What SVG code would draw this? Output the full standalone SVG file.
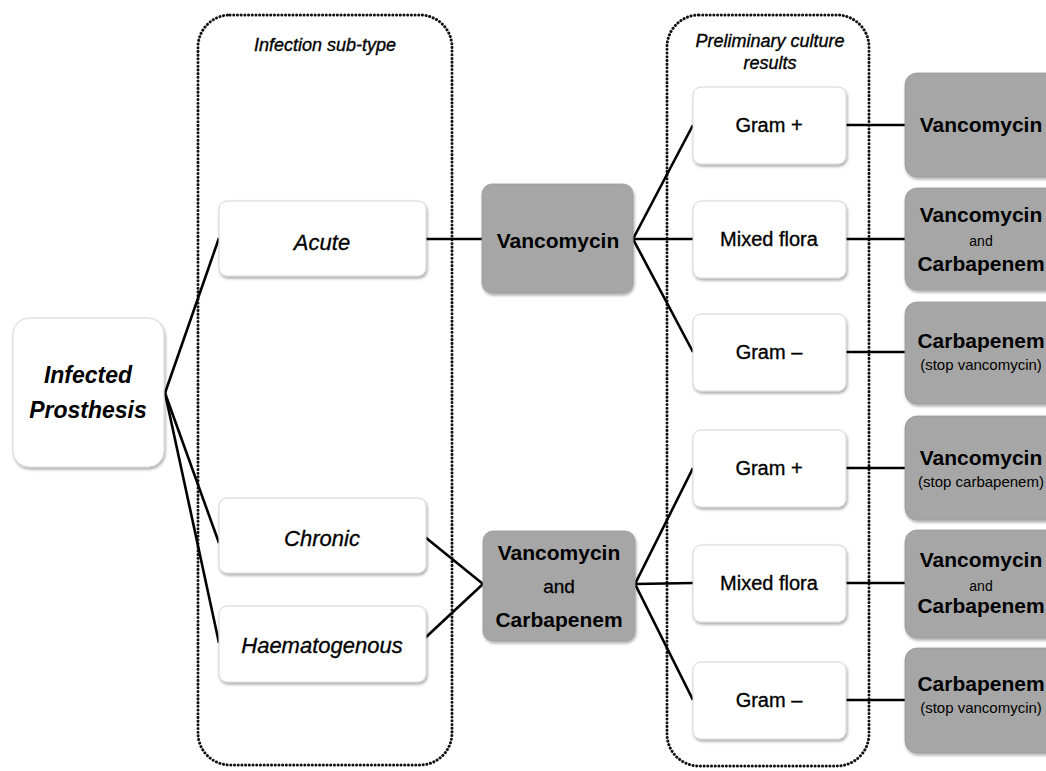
<svg xmlns="http://www.w3.org/2000/svg" width="1046" height="771" viewBox="0 0 1046 771">
<style>
.wb{fill:#ffffff;stroke:#d6d6d6;stroke-width:1;filter:url(#sh)}
.gb{fill:#a6a6a6;stroke:#9a9a9a;stroke-width:0.8;filter:url(#sh)}
.ct{fill:none;stroke:#111;stroke-width:3;stroke-dasharray:0.1 3.6;stroke-linecap:round}
.ln{stroke:#000;stroke-width:2.6;fill:none}
text{font-family:"Liberation Sans",Arial,sans-serif;fill:#000;text-anchor:middle}
.ttl{font-size:18px;font-style:italic;stroke:#000;stroke-width:0.35}
.ital{font-size:22px;font-style:italic;stroke:#000;stroke-width:0.3}
.grm{font-size:20px;stroke:#000;stroke-width:0.35}
.bd{font-size:21px;font-weight:bold}
.and{font-size:19px;stroke:#000;stroke-width:0.3}
.sm{font-size:14px}
.sub{font-size:15px}
</style>
<defs>
<filter id="sh" x="-10%" y="-10%" width="130%" height="130%">
<feDropShadow dx="1" dy="2" stdDeviation="1.5" flood-color="#000" flood-opacity="0.35"/>
</filter>
</defs>
<rect x="0" y="0" width="1046" height="771" fill="#fff"/>
<g id="containers">
<rect class="ct" x="198" y="15" width="254" height="750" rx="32"/>
<rect class="ct" x="667" y="15" width="202" height="751" rx="32"/>
<text class="ttl" x="325" y="51">Infection sub-type</text>
<text class="ttl" x="770" y="47">Preliminary culture</text>
<text class="ttl" x="770" y="69">results</text>
</g>
<g id="connectors">
<line class="ln" x1="165" y1="393" x2="219" y2="238"/>
<line class="ln" x1="165" y1="393" x2="219" y2="543"/>
<line class="ln" x1="165" y1="393" x2="219" y2="643"/>
<line class="ln" x1="426" y1="239" x2="482" y2="239"/>
<line class="ln" x1="425" y1="537" x2="483" y2="584"/>
<line class="ln" x1="425" y1="638" x2="483" y2="584"/>
<line class="ln" x1="633" y1="239" x2="693" y2="125"/>
<line class="ln" x1="633" y1="239" x2="693" y2="239"/>
<line class="ln" x1="633" y1="239" x2="693" y2="352"/>
<line class="ln" x1="635" y1="584" x2="693" y2="468"/>
<line class="ln" x1="635" y1="584" x2="693" y2="583"/>
<line class="ln" x1="635" y1="584" x2="693" y2="700"/>
<line class="ln" x1="846" y1="125" x2="905" y2="125"/>
<line class="ln" x1="846" y1="239" x2="905" y2="239"/>
<line class="ln" x1="846" y1="352" x2="905" y2="352"/>
<line class="ln" x1="846" y1="468" x2="905" y2="468"/>
<line class="ln" x1="846" y1="583" x2="905" y2="583"/>
<line class="ln" x1="846" y1="700" x2="905" y2="700"/>
</g>
<g id="n-infected">
<rect class="wb" x="13" y="318" width="151" height="149" rx="16"/>
<text class="ital" x="88" y="383" style="font-weight:bold;font-size:23px;stroke-width:0">Infected</text>
<text class="ital" x="88" y="418" style="font-weight:bold;font-size:23px;stroke-width:0">Prosthesis</text>
</g>
<g id="n-acute">
<rect class="wb" x="219" y="201" width="207" height="75" rx="8"/>
<text class="ital" x="322" y="250">Acute</text>
</g>
<g id="n-chronic">
<rect class="wb" x="219" y="498" width="207" height="75" rx="8"/>
<text class="ital" x="322" y="546">Chronic</text>
</g>
<g id="n-haem">
<rect class="wb" x="219" y="606" width="207" height="76" rx="8"/>
<text class="ital" x="322" y="653">Haematogenous</text>
</g>
<g id="n-vanc1">
<rect class="gb" x="482" y="184" width="151" height="109" rx="10"/>
<text class="bd" x="558" y="248">Vancomycin</text>
</g>
<g id="n-vanccarb">
<rect class="gb" x="483" y="531" width="152" height="110" rx="10"/>
<text class="bd" x="559" y="560">Vancomycin</text>
<text class="and" x="559" y="593">and</text>
<text class="bd" x="559" y="627">Carbapenem</text>
</g>
<g id="n-gp1">
<rect class="wb" x="693" y="87" width="153" height="77" rx="8"/>
<text class="grm" x="769" y="132">Gram +</text>
</g>
<g id="n-mf1">
<rect class="wb" x="693" y="201" width="153" height="77" rx="8"/>
<text class="grm" x="769" y="246">Mixed flora</text>
</g>
<g id="n-gn1">
<rect class="wb" x="693" y="314" width="153" height="77" rx="8"/>
<text class="grm" x="769" y="359">Gram –</text>
</g>
<g id="n-gp2">
<rect class="wb" x="693" y="430" width="153" height="77" rx="8"/>
<text class="grm" x="769" y="475">Gram +</text>
</g>
<g id="n-mf2">
<rect class="wb" x="693" y="545" width="153" height="77" rx="8"/>
<text class="grm" x="769" y="590">Mixed flora</text>
</g>
<g id="n-gn2">
<rect class="wb" x="693" y="662" width="153" height="77" rx="8"/>
<text class="grm" x="769" y="707">Gram –</text>
</g>
<g id="n-r1">
<rect class="gb" x="905" y="73" width="160" height="104" rx="12"/>
<text class="bd" x="981" y="132">Vancomycin</text>
</g>
<g id="n-r2">
<rect class="gb" x="905" y="188" width="160" height="102" rx="12"/>
<text class="bd" x="981" y="222">Vancomycin</text>
<text class="sm" x="981" y="246">and</text>
<text class="bd" x="981" y="271">Carbapenem</text>
</g>
<g id="n-r3">
<rect class="gb" x="905" y="302" width="160" height="102" rx="12"/>
<text class="bd" x="981" y="348">Carbapenem</text>
<text class="sub" x="981" y="370">(stop vancomycin)</text>
</g>
<g id="n-r4">
<rect class="gb" x="905" y="416" width="160" height="104" rx="12"/>
<text class="bd" x="981" y="465">Vancomycin</text>
<text class="sub" x="981" y="487">(stop carbapenem)</text>
</g>
<g id="n-r5">
<rect class="gb" x="905" y="530" width="160" height="108" rx="12"/>
<text class="bd" x="981" y="567">Vancomycin</text>
<text class="sm" x="981" y="591">and</text>
<text class="bd" x="981" y="613">Carbapenem</text>
</g>
<g id="n-r6">
<rect class="gb" x="905" y="648" width="160" height="105" rx="12"/>
<text class="bd" x="981" y="691">Carbapenem</text>
<text class="sub" x="981" y="713">(stop vancomycin)</text>
</g>
</svg>
